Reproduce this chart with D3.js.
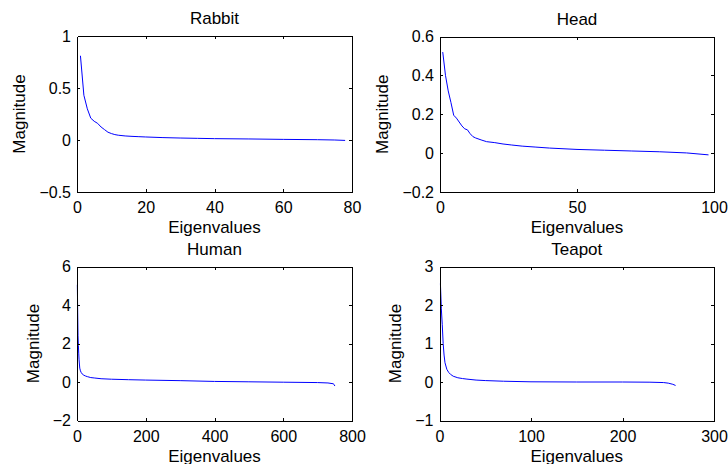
<!DOCTYPE html>
<html>
<head>
<meta charset="utf-8">
<script src="https://cdn.jsdelivr.net/npm/d3@7"></script>
<style>
  body { margin: 0; background: #fff; }
  text { font-family: "Liberation Sans", Arial, Helvetica, sans-serif; fill: #000; }
</style>
</head>
<body>
<div id="chart"></div>
<script>
// eigenvalue spectra (index -> magnitude)
const rabbitX = [1, 2, 3, 4, 5, 6, 7, 8, 9, 10, 11, 12, 14, 16, 18, 20, 25, 30, 35, 40, 50, 60, 70, 75, 78];
const rabbitY = [0.81, 0.43, 0.30, 0.21, 0.18, 0.16, 0.125, 0.10, 0.075, 0.062, 0.052, 0.046, 0.039, 0.035, 0.032, 0.029, 0.023, 0.019, 0.016, 0.013, 0.010, 0.006, 0.003, 0.0, -0.004];

const headX = [1, 2, 3, 4, 5, 6, 7, 8, 9, 10, 11, 12, 13, 15, 17, 20, 23, 26, 30, 35, 40, 50, 60, 70, 80, 90, 98];
const headY = [0.52, 0.40, 0.32, 0.26, 0.195, 0.18, 0.16, 0.14, 0.125, 0.12, 0.10, 0.085, 0.078, 0.068, 0.059, 0.054, 0.047, 0.042, 0.036, 0.031, 0.026, 0.019, 0.015, 0.011, 0.007, 0.001, -0.009];

const humanX = [1, 2, 3, 4, 5, 6, 8, 10, 12, 15, 20, 25, 30, 40, 50, 70, 100, 150, 200, 300, 400, 500, 600, 700, 730, 745, 748, 750];
const humanY = [5.05, 3.6, 2.4, 1.9, 1.5, 1.15, 0.72, 0.58, 0.5, 0.42, 0.35, 0.31, 0.28, 0.23, 0.21, 0.17, 0.145, 0.12, 0.10, 0.07, 0.03, 0.01, -0.01, -0.03, -0.05, -0.09, -0.13, -0.21];

const teapotX = [1, 2, 3, 4, 5, 6, 8, 10, 12, 15, 20, 25, 30, 40, 50, 70, 100, 150, 200, 230, 245, 250, 255, 258];
const teapotY = [2.56, 1.9, 1.5, 1.0, 0.7, 0.5, 0.33, 0.25, 0.2, 0.15, 0.11, 0.09, 0.075, 0.05, 0.037, 0.02, 0.005, 0, 0, -0.005, -0.015, -0.03, -0.06, -0.09];

// axis limits and ticks
const titles = ["Rabbit", "Head", "Human", "Teapot"];
const xDomains = [[0, 80], [0, 100], [0, 800], [0, 300]];
const yDomains = [[-0.5, 1], [-0.2, 0.6], [-2, 6], [-1, 3]];
const xTicks = [[0, 20, 40, 60, 80], [0, 50, 100], [0, 200, 400, 600, 800], [0, 100, 200, 300]];
const yTicks = [[-0.5, 0, 0.5, 1], [-0.2, 0, 0.2, 0.4, 0.6], [-2, 0, 2, 4, 6], [-1, 0, 1, 2, 3]];
const xLabel = "Eigenvalues";
const yLabel = "Magnitude";

const series = [
  [rabbitX, rabbitY],
  [headX, headY],
  [humanX, humanY],
  [teapotX, teapotY]
];

// axes boxes (left, right, top, bottom)
const boxes = [
  { l: 77, r: 352, t: 36, b: 192 },
  { l: 440, r: 714, t: 36.5, b: 192 },
  { l: 77, r: 352, t: 266.5, b: 420.5 },
  { l: 439.5, r: 714, t: 266.5, b: 420.5 }
];

const svg = d3.select("#chart").append("svg")
  .attr("width", 728)
  .attr("height", 464);

const fmt = d => String(d).replace("-", "\u2212");

series.forEach((s, i) => {
  const bx = boxes[i];
  const x = d3.scaleLinear().domain(xDomains[i]).range([bx.l, bx.r]);
  const y = d3.scaleLinear().domain(yDomains[i]).range([bx.b, bx.t]);
  const g = svg.append("g");

  const pts = s[0].map((v, k) => [v, s[1][k]]);
  g.append("path")
    .datum(pts)
    .attr("fill", "none")
    .attr("stroke", "#0000ff")
    .attr("stroke-width", 1)
    .attr("d", d3.line().x(d => x(d[0])).y(d => y(d[1])));

  // box with inward ticks on all four sides
  const gb = g.append("g").attr("transform", `translate(0,${bx.b})`)
    .call(d3.axisBottom(x).tickValues(xTicks[i]).tickFormat(fmt).tickSizeInner(-3).tickSizeOuter(0).tickPadding(10));
  const gt = g.append("g").attr("transform", `translate(0,${bx.t})`)
    .call(d3.axisTop(x).tickValues(xTicks[i]).tickFormat("").tickSizeInner(-3).tickSizeOuter(0));
  const gl = g.append("g").attr("transform", `translate(${bx.l},0)`)
    .call(d3.axisLeft(y).tickValues(yTicks[i]).tickFormat(fmt).tickSizeInner(-3).tickSizeOuter(0).tickPadding(6));
  const gr = g.append("g").attr("transform", `translate(${bx.r},0)`)
    .call(d3.axisRight(y).tickValues(yTicks[i]).tickFormat("").tickSizeInner(-3).tickSizeOuter(0));

  [gb, gt, gl, gr].forEach(a => {
    a.attr("font-family", null).attr("font-size", null);
    a.selectAll("path, line").attr("stroke", "#000").attr("shape-rendering", "crispEdges");
    a.selectAll("text").style("font-size", "16px").attr("fill", "#000");
  });
  // no tick marks on the box corners
  gb.selectAll(".tick line").filter(d => d === xDomains[i][0] || d === xDomains[i][1]).remove();
  gt.selectAll(".tick line").filter(d => d === xDomains[i][0] || d === xDomains[i][1]).remove();
  gl.selectAll(".tick line").filter(d => d === yDomains[i][0] || d === yDomains[i][1]).remove();
  gr.selectAll(".tick line").filter(d => d === yDomains[i][0] || d === yDomains[i][1]).remove();

  g.append("text")
    .attr("x", (bx.l + bx.r) / 2)
    .attr("y", bx.t - 12)
    .attr("text-anchor", "middle")
    .style("font-size", "17px")
    .text(titles[i]);

  g.append("text")
    .attr("x", (bx.l + bx.r) / 2)
    .attr("y", bx.b + 41)
    .attr("text-anchor", "middle")
    .style("font-size", "17px")
    .text(xLabel);

  const lb = gl.node().getBBox();
  const lx = bx.l + lb.x - 14;
  g.append("text")
    .attr("transform", `translate(${lx},${(bx.t + bx.b) / 2}) rotate(-90)`)
    .attr("text-anchor", "middle")
    .style("font-size", "17px")
    .text(yLabel);
});
</script>
</body>
</html>
